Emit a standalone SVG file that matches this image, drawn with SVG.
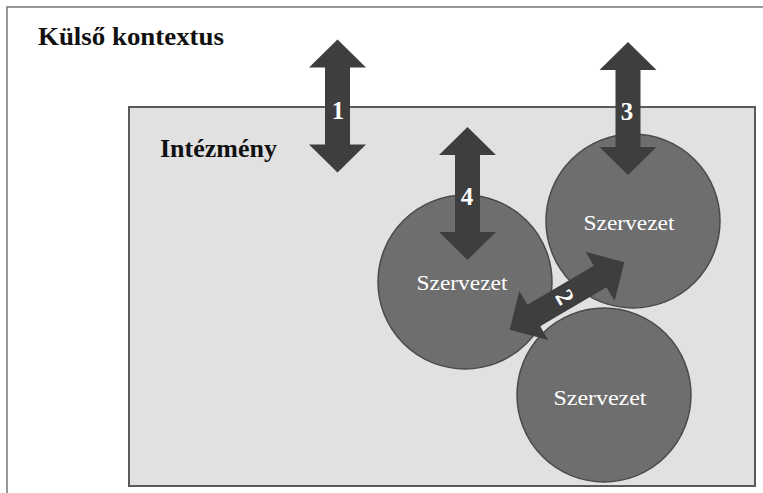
<svg xmlns="http://www.w3.org/2000/svg" width="763" height="493" viewBox="0 0 763 493">
<style>
.frame{fill:none;stroke:#777;stroke-width:1.5}
.inst{fill:#e1e1e1;stroke:#5a5a5a;stroke-width:2}
.org{fill:#6e6e6e;stroke:#4a4a4a;stroke-width:1.5}
.title{font-family:"Liberation Serif",serif;font-weight:bold;font-size:26px;fill:#111}
.orgtxt{font-family:"Liberation Serif",serif;font-size:22px;fill:#fff;text-anchor:middle}
.arrow{fill:#3e3e3e}
.num{font-family:"Liberation Serif",serif;font-weight:bold;font-size:25px;fill:#fff;text-anchor:middle}
</style>
<defs>
<path id="dbl" d="M-66.5,0 L-38.5,-28.5 L-38.5,-12.5 L38.5,-12.5 L38.5,-28.5 L66.5,0 L38.5,28.5 L38.5,12.5 L-38.5,12.5 L-38.5,28.5 Z"/>
</defs>
<rect width="763" height="493" fill="#fff"/>
<g id="context">
<path class="frame" d="M7,493 L7,7 L763,7"/>
<text class="title" x="38" y="45" textLength="186" lengthAdjust="spacingAndGlyphs">Külső kontextus</text>
</g>
<g id="institution">
<rect class="inst" x="129" y="107" width="626" height="379"/>
<text class="title" x="160" y="157">Intézmény</text>
</g>
<g id="org-left">
<circle class="org" cx="465" cy="282" r="87"/>
<text class="orgtxt" x="462" y="290" textLength="91" lengthAdjust="spacingAndGlyphs">Szervezet</text>
</g>
<g id="org-right">
<circle class="org" cx="633" cy="221" r="87"/>
<text class="orgtxt" x="629" y="230" textLength="91" lengthAdjust="spacingAndGlyphs">Szervezet</text>
</g>
<g id="org-bottom">
<circle class="org" cx="604" cy="395" r="87"/>
<text class="orgtxt" x="600" y="405" textLength="93" lengthAdjust="spacingAndGlyphs">Szervezet</text>
</g>
<g id="connectors">
<g id="arrow1">
<use href="#dbl" class="arrow" transform="translate(337.5,106) rotate(90)"/>
<text class="num" x="338" y="119">1</text>
</g>
<g id="arrow3">
<use href="#dbl" class="arrow" transform="translate(628,108.5) rotate(90)"/>
<text class="num" x="627" y="120">3</text>
</g>
<g id="arrow4">
<use href="#dbl" class="arrow" transform="translate(467.5,193.5) rotate(90)"/>
<text class="num" x="467" y="205">4</text>
</g>
<g id="arrow2">
<use href="#dbl" class="arrow" transform="translate(567,296) rotate(-30.5)"/>
<text class="num" transform="translate(565,297) rotate(60)" x="0" y="8.5">2</text>
</g>
</g>
</svg>
